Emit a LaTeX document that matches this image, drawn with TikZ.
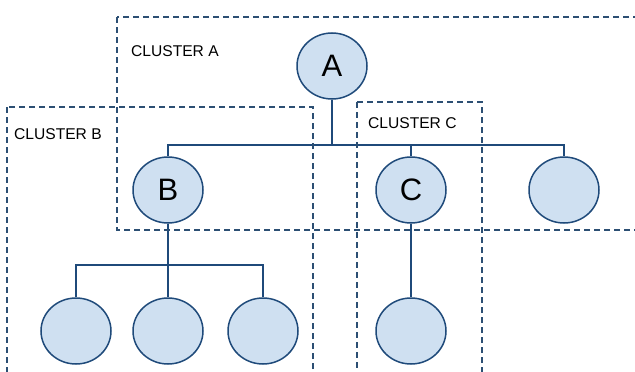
\documentclass[tikz,border=0pt]{standalone}
\usepackage{fontspec}
\setmainfont{Liberation Sans}
\usepackage{tikz}
\usetikzlibrary{shapes.geometric}

\definecolor{linecol}{RGB}{31,74,122}
\definecolor{dashcol}{RGB}{44,79,115}
\definecolor{nodefill}{RGB}{207,224,241}

\tikzset{
  vert/.style={ellipse,draw=linecol,fill=nodefill,line width=1.5pt,
    minimum width=70pt,minimum height=66pt,inner sep=0pt,font=\fontsize{31}{31}\selectfont},
  cluster/.style={draw=dashcol,line width=1.6pt,dash pattern=on 6pt off 4pt},
  clabel/.style={anchor=west,inner sep=0pt,font=\fontsize{15.6}{15.6}\selectfont},
  link/.style={draw=linecol,line width=1.6pt}
}

\begin{document}
\begin{tikzpicture}[x=1pt,y=-1pt]
    \useasboundingbox (0,0) rectangle (635,372);
    \clip (0,0) rectangle (635,372);
    % vertices
    \node[vert] (A) at (332,66) {A};
    \node[vert] (B) at (168,190) {B};
    \node[vert] (C) at (411,190) {C};
    \node[vert] (D) at (564,190) {};
    \node[vert] (B1) at (76,331) {};
    \node[vert] (B2) at (168,331) {};
    \node[vert] (B3) at (263,331) {};
    \node[vert] (C1) at (411,331) {};
    \coordinate (barA) at (0,145);
    \coordinate (barB) at (0,265);
    % edges
    \draw[link] (A.south) -- (A.south |- barA);
    \draw[link] (B.north) -- (B.north |- barA) -| (D.north);
    \draw[link] (C.north) -- (C.north |- barA);
    \draw[link] (B.south) -- (B2.north);
    \draw[link] (B1.north) -- (B1.north |- barB) -| (B3.north);
    \draw[link] (C.south) -- (C1.north);
    % clusters
    \draw[cluster] (117,17) rectangle (645,230);
    \draw[cluster] (7,107) rectangle (313,385);
    \draw[cluster] (357,102) rectangle (482,385);
    \node[clabel] (labA) at (131,51) {CLUSTER A};
    \node[clabel] (labB) at (14,134.5) {CLUSTER B};
    \node[clabel] (labC) at (368,123.5) {CLUSTER C};
\end{tikzpicture}
\end{document}
